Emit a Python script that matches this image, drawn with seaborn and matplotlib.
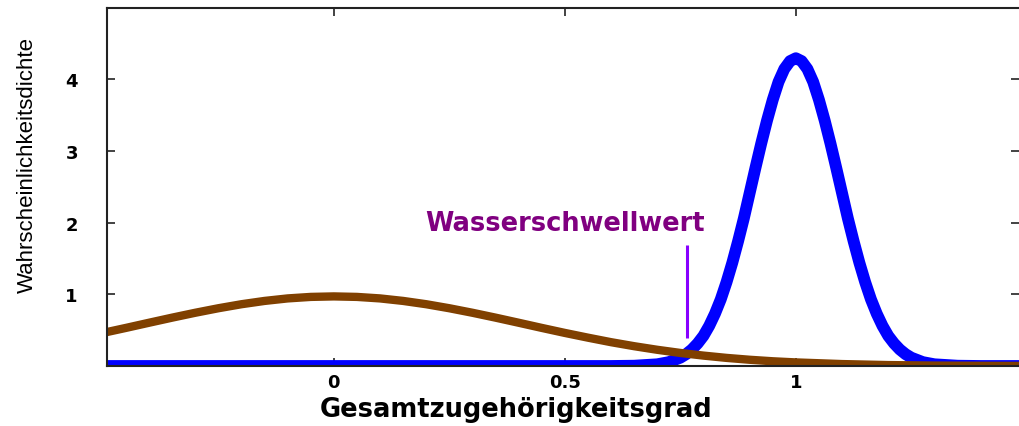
import pandas as pd
import matplotlib
matplotlib.use("Agg")
import matplotlib.pyplot as plt
import seaborn as sns

# Values
# blue curve (narrow peak at 1.0)
blue_x = [-0.5, 0.4, 0.5, 0.6, 0.65, 0.7, 0.725, 0.75, 0.7625, 0.775, 0.7875,
          0.8, 0.8125, 0.825, 0.8375, 0.85, 0.8625, 0.875, 0.8875, 0.9, 0.9125,
          0.925, 0.9375, 0.95, 0.9625, 0.975, 0.9875, 1.0, 1.0125, 1.025, 1.0375,
          1.05, 1.0625, 1.075, 1.0875, 1.1, 1.1125, 1.125, 1.1375, 1.15, 1.1625,
          1.175, 1.1875, 1.2, 1.2125, 1.225, 1.2375, 1.25, 1.275, 1.3, 1.35,
          1.4, 1.5]
blue_y = [0.0, 0.0, 0.0, 0.0, 0.004, 0.024, 0.054, 0.116, 0.165, 0.23, 0.315,
          0.42, 0.56, 0.73, 0.93, 1.17, 1.44, 1.74, 2.06, 2.41, 2.76,
          3.10, 3.42, 3.71, 3.96, 4.14, 4.25, 4.29, 4.25, 4.14, 3.96,
          3.71, 3.42, 3.10, 2.76, 2.41, 2.06, 1.74, 1.44, 1.17, 0.93,
          0.73, 0.56, 0.42, 0.315, 0.23, 0.165, 0.116, 0.054, 0.024, 0.004,
          0.0, 0.0]

# brown curve (broad peak at 0)
brown_x = [-0.5, -0.45, -0.4, -0.35, -0.3, -0.25, -0.2, -0.15, -0.1, -0.05, 0.0,
           0.05, 0.1, 0.15, 0.2, 0.25, 0.3, 0.35, 0.4, 0.45, 0.5,
           0.55, 0.6, 0.65, 0.7, 0.75, 0.8, 0.85, 0.9, 0.95, 1.0,
           1.1, 1.2, 1.3, 1.4, 1.5]
brown_y = [0.461, 0.531, 0.603, 0.674, 0.742, 0.805, 0.861, 0.907, 0.942, 0.963, 0.97,
           0.963, 0.942, 0.907, 0.861, 0.805, 0.742, 0.674, 0.603, 0.531, 0.461,
           0.395, 0.332, 0.276, 0.226, 0.182, 0.145, 0.113, 0.087, 0.066, 0.050,
           0.027, 0.013, 0.006, 0.003, 0.001]

# threshold marker
threshold_x = 0.764
threshold_ymin = 0.39
threshold_ymax = 1.68
threshold_label = "Wasserschwellwert"

x_ticks = [0, 0.5, 1]
x_tick_labels = ["0", "0.5", "1"]
y_ticks = [1, 2, 3, 4]
y_tick_labels = ["1", "2", "3", "4"]

sns.set_style("ticks")
plt.rcParams['font.family'] = ['DejaVu Sans']

df_blue = pd.DataFrame({'x': blue_x, 'y': blue_y})
df_brown = pd.DataFrame({'x': brown_x, 'y': brown_y})

fig = plt.figure(figsize=(10.19, 4.27), dpi=100)
ax = fig.add_axes([107 / 1019, 60 / 427, 912 / 1019, 358 / 427])

sns.lineplot(data=df_blue, x='x', y='y', ax=ax, color='#0000ff', linewidth=8.5,
             solid_joinstyle='round', solid_capstyle='butt')
sns.lineplot(data=df_brown, x='x', y='y', ax=ax, color='#804000', linewidth=6.0,
             solid_joinstyle='round')

ax.vlines(threshold_x, threshold_ymin, threshold_ymax, color='#8800ff', linewidth=2.2)
ax.text(0.5, 1.99, threshold_label, ha='center', va='center', color='#800080',
        fontsize=18.5, fontweight='bold')

ax.set_xlim(-0.491, 1.483)
ax.set_ylim(0, 4.99)
ax.set_xticks(x_ticks)
ax.set_xticklabels(x_tick_labels)
ax.set_yticks(y_ticks)
ax.set_yticklabels(y_tick_labels)
ax.tick_params(axis='both', direction='in', length=6, width=1.2, color='#222222',
               labelsize=13, labelcolor='black', top=True, right=True)
ax.tick_params(axis='y', pad=21)
ax.tick_params(axis='x', pad=5)
for lab in ax.get_xticklabels() + ax.get_yticklabels():
    lab.set_fontweight('bold')

for side in ['left', 'bottom', 'top']:
    ax.spines[side].set_color('#222222')
    ax.spines[side].set_linewidth(1.5)
ax.spines['right'].set_visible(False)

ax.set_xlabel("Gesamtzugehörigkeitsgrad", fontsize=18.5, fontweight='bold', color='black')
ax.set_ylabel("Wahrscheinlichkeitsdichte", fontsize=16, family=['Liberation Sans'],
              color='black')
ax.xaxis.set_label_coords(0.4485, -0.083)
ax.yaxis.set_label_coords(-0.0757, 0.564)

fig.savefig("out.png", dpi=100)
